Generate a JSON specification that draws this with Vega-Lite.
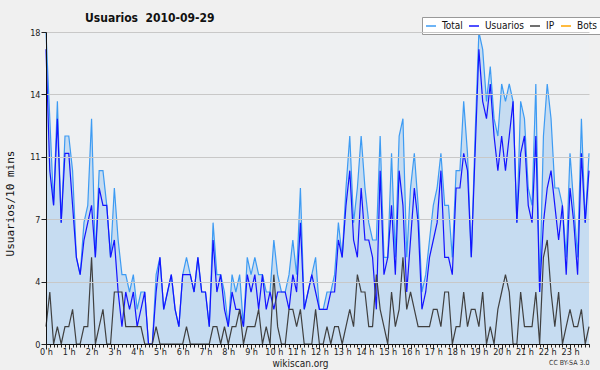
{
  "$schema": "https://vega.github.io/schema/vega-lite/v6.json",
  "width": 543,
  "height": 312,
  "autosize": {"type": "none"},
  "padding": {"left": 46, "top": 32, "right": 11, "bottom": 26},
  "background": "#f0f0f0",
  "config": {"view": {"fill": "#eef0f2", "stroke": null}, "font": "DejaVu Sans Condensed"},
  "title": {"text": "Usuarios\u00a0 2010-09-29", "anchor": "start", "frame": "group", "dx": 39, "dy": 17, "font": "DejaVu Sans Condensed", "fontSize": 12, "fontWeight": "bold", "color": "#111111", "baseline": "alphabetic", "offset": 0},
  "data": {"values": [
    {"m":0,"Total":18,"Usuarios":17,"IP":1},{"m":10,"Total":13,"Usuarios":10,"IP":3},{"m":20,"Total":8,"Usuarios":8,"IP":0},{"m":30,"Total":14,"Usuarios":13,"IP":1},{"m":40,"Total":7,"Usuarios":7,"IP":0},{"m":50,"Total":12,"Usuarios":11,"IP":1},
    {"m":60,"Total":12,"Usuarios":11,"IP":1},{"m":70,"Total":10,"Usuarios":8,"IP":2},{"m":80,"Total":5,"Usuarios":5,"IP":0},{"m":90,"Total":4,"Usuarios":4,"IP":0},{"m":100,"Total":7,"Usuarios":6,"IP":1},{"m":110,"Total":8,"Usuarios":7,"IP":1},
    {"m":120,"Total":13,"Usuarios":8,"IP":5},{"m":130,"Total":5,"Usuarios":5,"IP":0},{"m":140,"Total":10,"Usuarios":9,"IP":1},{"m":150,"Total":10,"Usuarios":8,"IP":2},{"m":160,"Total":8,"Usuarios":8,"IP":0},{"m":170,"Total":5,"Usuarios":5,"IP":0},
    {"m":180,"Total":9,"Usuarios":6,"IP":3},{"m":190,"Total":6,"Usuarios":3,"IP":3},{"m":200,"Total":4,"Usuarios":1,"IP":3},{"m":210,"Total":4,"Usuarios":3,"IP":1},{"m":220,"Total":3,"Usuarios":2,"IP":1},{"m":230,"Total":4,"Usuarios":3,"IP":1},
    {"m":240,"Total":2,"Usuarios":1,"IP":1},{"m":250,"Total":3,"Usuarios":2,"IP":1},{"m":260,"Total":3,"Usuarios":3,"IP":0},{"m":270,"Total":0,"Usuarios":0,"IP":0},{"m":280,"Total":0,"Usuarios":0,"IP":0},{"m":290,"Total":4,"Usuarios":3,"IP":1},
    {"m":300,"Total":5,"Usuarios":5,"IP":0},{"m":310,"Total":2,"Usuarios":2,"IP":0},{"m":320,"Total":3,"Usuarios":3,"IP":0},{"m":330,"Total":4,"Usuarios":4,"IP":0},{"m":340,"Total":2,"Usuarios":2,"IP":0},{"m":350,"Total":1,"Usuarios":1,"IP":0},
    {"m":360,"Total":4,"Usuarios":4,"IP":0},{"m":370,"Total":5,"Usuarios":4,"IP":1},{"m":380,"Total":4,"Usuarios":4,"IP":0},{"m":390,"Total":3,"Usuarios":3,"IP":0},{"m":400,"Total":5,"Usuarios":5,"IP":0},{"m":410,"Total":3,"Usuarios":3,"IP":0},
    {"m":420,"Total":3,"Usuarios":3,"IP":0},{"m":430,"Total":1,"Usuarios":1,"IP":0},{"m":440,"Total":7,"Usuarios":6,"IP":1},{"m":450,"Total":4,"Usuarios":3,"IP":1},{"m":460,"Total":4,"Usuarios":4,"IP":0},{"m":470,"Total":3,"Usuarios":2,"IP":1},
    {"m":480,"Total":1,"Usuarios":1,"IP":0},{"m":490,"Total":4,"Usuarios":3,"IP":1},{"m":500,"Total":3,"Usuarios":2,"IP":1},{"m":510,"Total":4,"Usuarios":2,"IP":2},{"m":520,"Total":1,"Usuarios":1,"IP":0},{"m":530,"Total":5,"Usuarios":4,"IP":1},
    {"m":540,"Total":4,"Usuarios":3,"IP":1},{"m":550,"Total":5,"Usuarios":4,"IP":1},{"m":560,"Total":4,"Usuarios":2,"IP":2},{"m":570,"Total":4,"Usuarios":4,"IP":0},{"m":580,"Total":3,"Usuarios":2,"IP":1},{"m":590,"Total":3,"Usuarios":3,"IP":0},
    {"m":600,"Total":6,"Usuarios":2,"IP":4},{"m":610,"Total":4,"Usuarios":3,"IP":1},{"m":620,"Total":3,"Usuarios":3,"IP":0},{"m":630,"Total":3,"Usuarios":3,"IP":0},{"m":640,"Total":4,"Usuarios":2,"IP":2},{"m":650,"Total":6,"Usuarios":4,"IP":2},
    {"m":660,"Total":4,"Usuarios":3,"IP":1},{"m":670,"Total":9,"Usuarios":7,"IP":2},{"m":680,"Total":2,"Usuarios":2,"IP":0},{"m":690,"Total":3,"Usuarios":3,"IP":0},{"m":700,"Total":4,"Usuarios":4,"IP":0},{"m":710,"Total":5,"Usuarios":3,"IP":2},
    {"m":720,"Total":2,"Usuarios":2,"IP":0},{"m":730,"Total":2,"Usuarios":2,"IP":0},{"m":740,"Total":3,"Usuarios":2,"IP":1},{"m":750,"Total":3,"Usuarios":3,"IP":0},{"m":760,"Total":4,"Usuarios":3,"IP":1},{"m":770,"Total":7,"Usuarios":6,"IP":1},
    {"m":780,"Total":5,"Usuarios":5,"IP":0},{"m":790,"Total":9,"Usuarios":8,"IP":1},{"m":800,"Total":12,"Usuarios":10,"IP":2},{"m":810,"Total":7,"Usuarios":6,"IP":1},{"m":820,"Total":9,"Usuarios":5,"IP":4},{"m":830,"Total":12,"Usuarios":9,"IP":3},
    {"m":840,"Total":9,"Usuarios":6,"IP":3},{"m":850,"Total":7,"Usuarios":6,"IP":1},{"m":860,"Total":6,"Usuarios":5,"IP":1},{"m":870,"Total":6,"Usuarios":2,"IP":4},{"m":880,"Total":12,"Usuarios":10,"IP":2},{"m":890,"Total":5,"Usuarios":4,"IP":1},
    {"m":900,"Total":5,"Usuarios":5,"IP":0},{"m":910,"Total":11,"Usuarios":8,"IP":3},{"m":920,"Total":5,"Usuarios":4,"IP":1},{"m":930,"Total":12,"Usuarios":10,"IP":2},{"m":940,"Total":13,"Usuarios":8,"IP":5},{"m":950,"Total":5,"Usuarios":3,"IP":2},
    {"m":960,"Total":9,"Usuarios":6,"IP":3},{"m":970,"Total":11,"Usuarios":9,"IP":2},{"m":980,"Total":8,"Usuarios":7,"IP":1},{"m":990,"Total":3,"Usuarios":2,"IP":1},{"m":1000,"Total":4,"Usuarios":3,"IP":1},{"m":1010,"Total":6,"Usuarios":5,"IP":1},
    {"m":1020,"Total":8,"Usuarios":6,"IP":2},{"m":1030,"Total":9,"Usuarios":7,"IP":2},{"m":1040,"Total":11,"Usuarios":10,"IP":1},{"m":1050,"Total":8,"Usuarios":5,"IP":3},{"m":1060,"Total":8,"Usuarios":5,"IP":3},{"m":1070,"Total":5,"Usuarios":4,"IP":0},
    {"m":1080,"Total":10,"Usuarios":9,"IP":1},{"m":1090,"Total":10,"Usuarios":9,"IP":1},{"m":1100,"Total":14,"Usuarios":11,"IP":3},{"m":1110,"Total":11,"Usuarios":10,"IP":1},{"m":1120,"Total":5,"Usuarios":5,"IP":2},{"m":1130,"Total":12,"Usuarios":11,"IP":2},
    {"m":1140,"Total":18,"Usuarios":17,"IP":1},{"m":1150,"Total":17,"Usuarios":14,"IP":3},{"m":1160,"Total":14,"Usuarios":13,"IP":0},{"m":1170,"Total":16,"Usuarios":15,"IP":1},{"m":1180,"Total":13,"Usuarios":12,"IP":0},{"m":1190,"Total":12,"Usuarios":10,"IP":2},
    {"m":1200,"Total":15,"Usuarios":12,"IP":3},{"m":1210,"Total":14,"Usuarios":10,"IP":4},{"m":1220,"Total":15,"Usuarios":12,"IP":3},{"m":1230,"Total":14,"Usuarios":14,"IP":0},{"m":1240,"Total":7,"Usuarios":7,"IP":0},{"m":1250,"Total":14,"Usuarios":11,"IP":3},
    {"m":1260,"Total":13,"Usuarios":12,"IP":1},{"m":1270,"Total":9,"Usuarios":8,"IP":1},{"m":1280,"Total":8,"Usuarios":7,"IP":1},{"m":1290,"Total":15,"Usuarios":12,"IP":3},{"m":1300,"Total":3,"Usuarios":3,"IP":0},{"m":1310,"Total":12,"Usuarios":7,"IP":5},
    {"m":1320,"Total":15,"Usuarios":9,"IP":6},{"m":1330,"Total":13,"Usuarios":10,"IP":3},{"m":1340,"Total":9,"Usuarios":8,"IP":1},{"m":1350,"Total":9,"Usuarios":6,"IP":3},{"m":1360,"Total":8,"Usuarios":8,"IP":0},{"m":1370,"Total":5,"Usuarios":4,"IP":1},
    {"m":1380,"Total":11,"Usuarios":9,"IP":2},{"m":1390,"Total":8,"Usuarios":7,"IP":1},{"m":1400,"Total":5,"Usuarios":4,"IP":1},{"m":1410,"Total":13,"Usuarios":11,"IP":2},{"m":1420,"Total":7,"Usuarios":7,"IP":0},{"m":1430,"Total":11,"Usuarios":10,"IP":1}
  ]},
  "layer": [
    {
      "mark": {"type": "area", "color": "#c6dcf1"},
      "encoding": {
        "x": {"field": "m", "type": "quantitative", "scale": {"domain": [0, 1430], "nice": false, "zero": false},
          "axis": {"orient": "bottom", "zindex": 1,
            "values": [0,10,20,30,40,50,60,70,80,90,100,110,120,130,140,150,160,170,180,190,200,210,220,230,240,250,260,270,280,290,300,310,320,330,340,350,360,370,380,390,400,410,420,430,440,450,460,470,480,490,500,510,520,530,540,550,560,570,580,590,600,610,620,630,640,650,660,670,680,690,700,710,720,730,740,750,760,770,780,790,800,810,820,830,840,850,860,870,880,890,900,910,920,930,940,950,960,970,980,990,1000,1010,1020,1030,1040,1050,1060,1070,1080,1090,1100,1110,1120,1130,1140,1150,1160,1170,1180,1190,1200,1210,1220,1230,1240,1250,1260,1270,1280,1290,1300,1310,1320,1330,1340,1350,1360,1370,1380,1390,1400,1410,1420,1430],
            "labelExpr": "datum.value % 60 === 0 ? (datum.value / 60) + ' h' : ''",
            "tickSize": {"condition": {"test": "datum.value % 60 === 0", "value": 5}, "value": 3},
            "tickColor": "#222222", "domainColor": "#111111", "grid": false,
            "labelFont": "DejaVu Sans Condensed", "labelFontSize": 9, "labelColor": "#222222", "labelPadding": -2,
            "labelFlush": false, "labelOverlap": false, "labelAngle": 0,
            "title": "wikiscan.org", "titleFont": "DejaVu Sans Condensed", "titleFontSize": 10, "titleFontWeight": "normal", "titleColor": "#222222",
            "titleX": 254, "titleY": 19, "titleAlign": "center", "titleBaseline": "middle"}},
        "y": {"field": "Total", "type": "quantitative", "scale": {"domain": [0, 18], "nice": false},
          "axis": {"zindex": 1,
            "values": [0,0.9,1.8,2.7,3.6,4.5,5.4,6.3,7.2,8.1,9,9.9,10.8,11.7,12.6,13.5,14.4,15.3,16.2,17.1,18],
            "labelExpr": "round(datum.value * 10) % 36 === 0 ? format(datum.value, '.0f') : ''",
            "tickSize": {"condition": {"test": "round(datum.value * 10) % 36 === 0", "value": 5}, "value": 3},
            "tickColor": "#222222", "domainColor": "#111111",
            "grid": true, "gridColor": "#c8c8c8", "gridOpacity": {"condition": {"test": "round(datum.value * 10) % 36 === 0", "value": 1}, "value": 0},
            "labelFont": "DejaVu Sans Condensed", "labelFontSize": 9, "labelColor": "#222222", "labelPadding": 1,
            "labelFlush": false, "labelOverlap": false,
            "title": "Usuarios/10 mins", "titleFont": "DejaVu Sans Mono", "titleFontSize": 11, "titleFontWeight": "normal", "titleColor": "#111111",
            "titleX": -36, "titleY": 171, "titleAngle": -90, "titleAlign": "center", "titleBaseline": "middle"}}
      }
    },
    {
      "mark": {"type": "line", "strokeWidth": 1.2},
      "encoding": {
        "x": {"field": "m", "type": "quantitative",
          "axis": {"orient": "bottom", "domain": false, "ticks": false, "labels": false, "grid": false,
            "title": "CC BY-SA 3.0", "titleFont": "DejaVu Sans Condensed", "titleFontSize": 7, "titleFontWeight": "normal", "titleColor": "#333333",
            "titleX": 543, "titleY": 18, "titleAlign": "right", "titleBaseline": "middle"}},
        "y": {"field": "Total", "type": "quantitative"},
        "color": {"datum": "Total", "type": "nominal",
          "scale": {"domain": ["Total", "Usuarios", "IP", "Bots"], "range": ["#3d9bf3", "#1414ff", "#404040", "#ffa500"]},
          "legend": {"title": null, "orient": "none", "legendX": 376, "legendY": -15, "direction": "horizontal",
            "symbolType": "stroke", "symbolSize": 100, "symbolStrokeWidth": 1.5,
            "labelFont": "DejaVu Sans Condensed", "labelFontSize": 10, "labelColor": "#111111", "labelOffset": 5,
            "columnPadding": 3, "padding": 3, "fillColor": "#ffffff", "strokeColor": "#999999"}}
      }
    },
    {
      "mark": {"type": "line", "strokeWidth": 1.2},
      "encoding": {
        "x": {"field": "m", "type": "quantitative", "axis": null},
        "y": {"field": "Usuarios", "type": "quantitative"},
        "color": {"datum": "Usuarios", "type": "nominal"}
      }
    },
    {
      "mark": {"type": "line", "strokeWidth": 1.2},
      "encoding": {
        "x": {"field": "m", "type": "quantitative", "axis": null},
        "y": {"field": "IP", "type": "quantitative"},
        "color": {"datum": "IP", "type": "nominal"}
      }
    }
  ],
  "resolve": {"axis": {"x": "independent"}}
}
